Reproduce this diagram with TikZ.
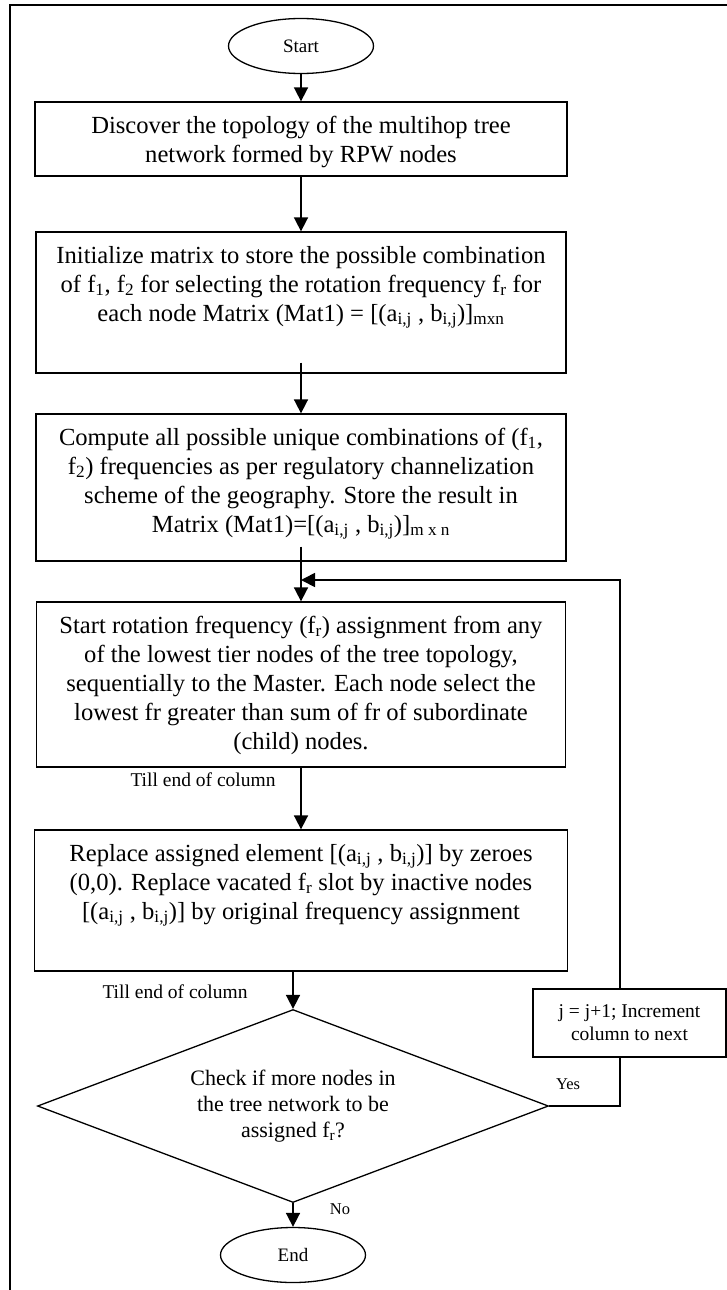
\documentclass[tikz,border=0pt]{standalone}
\usepackage{fontspec}
\setmainfont{Liberation Serif}
\usetikzlibrary{arrows.meta, shapes.geometric}

\newcommand{\boxtext}[3]{\parbox[c][#1][t]{#2}{\centering\rule{0pt}{31pt}#3}}

\begin{document}
\begin{tikzpicture}[x=1pt, y=-1pt, >={Triangle[width=14pt,length=14pt]},
    proc/.style={draw, line width=1.3pt, inner sep=0pt, font=\fontsize{24.6}{29}\selectfont},
    term/.style={draw, ellipse, line width=1.3pt, minimum width=145pt, minimum height=55pt,
      inner sep=0pt, font=\fontsize{19}{23}\selectfont},
    decide/.style={draw, diamond, aspect=2.65, line width=1.3pt, minimum width=511pt,
      minimum height=193pt, inner sep=0pt, align=center, font=\fontsize{22}{26}\selectfont},
    small/.style={draw, line width=1.3pt, minimum width=193pt, minimum height=68pt,
      align=center, font=\fontsize{19.5}{23}\selectfont},
    note/.style={font=\fontsize{19.5}{23}\selectfont},
    tag/.style={font=\fontsize{16.5}{20}\selectfont},
    flow/.style={line width=1.7pt}]
  \clip (0,0) rectangle (727,1290);
  \draw[line width=1.3pt] (10,5) rectangle (760,1320);

  \node[term] (start) at (301,46) {Start};
  \node[proc] (discover) at (301,139) {\boxtext{74pt}{532pt}{Discover the topology of the multihop tree\\
    network formed by RPW nodes}};
  \node[proc] (init) at (301,302.5) {\boxtext{141pt}{530pt}{Initialize matrix to store the possible combination\\
    of f\textsubscript{1}, f\textsubscript{2} for selecting the rotation frequency f\textsubscript{r} for\\
    each node Matrix (Mat1) = [(a\textsubscript{i,j} , b\textsubscript{i,j})]\textsubscript{mxn}}};
  \node[proc] (compute) at (301,487.5) {\boxtext{147pt}{530pt}{Compute all possible unique combinations of (f\textsubscript{1},\\
    f\textsubscript{2}) frequencies as per regulatory channelization\\
    scheme of the geography. Store the result in\\
    Matrix (Mat1)=[(a\textsubscript{i,j} , b\textsubscript{i,j})]\textsubscript{m x n}}};
  \node[proc] (assign) at (301,684.5) {\boxtext{165pt}{529pt}{Start rotation frequency (f\textsubscript{r}) assignment from any\\
    of the lowest tier nodes of the tree topology,\\
    sequentially to the Master. Each node select the\\
    lowest fr greater than sum of fr of subordinate\\
    (child) nodes.}};
  \node[proc] (replace) at (301,900.5) {\boxtext{141pt}{533pt}{Replace assigned element [(a\textsubscript{i,j} , b\textsubscript{i,j})] by zeroes\\
    (0,0). Replace vacated f\textsubscript{r} slot by inactive nodes\\{}
    [(a\textsubscript{i,j} , b\textsubscript{i,j})] by original frequency assignment}};
  \node[decide] (check) at (293,1106) {Check if more nodes in\\the tree network to be\\assigned f\textsubscript{r}?};
  \node[small] (incr) at (629.5,1023) {j = j+1; Increment\\column to next};
  \node[term] (stop) at (293,1255) {End};

  \coordinate (join) at (301,580);
  \coordinate (rail) at (620,580);

  \draw[->, flow] (start) -- (discover);
  \draw[->, flow] (discover) -- (init);
  \draw[->, flow] ([yshift=11pt]init.south) -- (compute);
  \draw[->, flow] ([yshift=15pt]compute.south) -- (assign);
  \draw[->, flow] (rail |- incr.north) -- (rail) -- (join);
  \draw[->, flow] (assign) -- (replace);
  \node[note] (till1) at (203,780) {Till end of column};
  \draw[->, flow] (replace.south -| check.north) -- (check);
  \node[note] (till2) at (175,992) {Till end of column};
  \draw[flow] (check.east) -| (rail |- incr.south);
  \node[tag] (yes) at (568,1084) {Yes};
  \draw[->, flow] (check) -- (stop);
  \node[tag] (no) at (340,1209) {No};
\end{tikzpicture}
\end{document}
